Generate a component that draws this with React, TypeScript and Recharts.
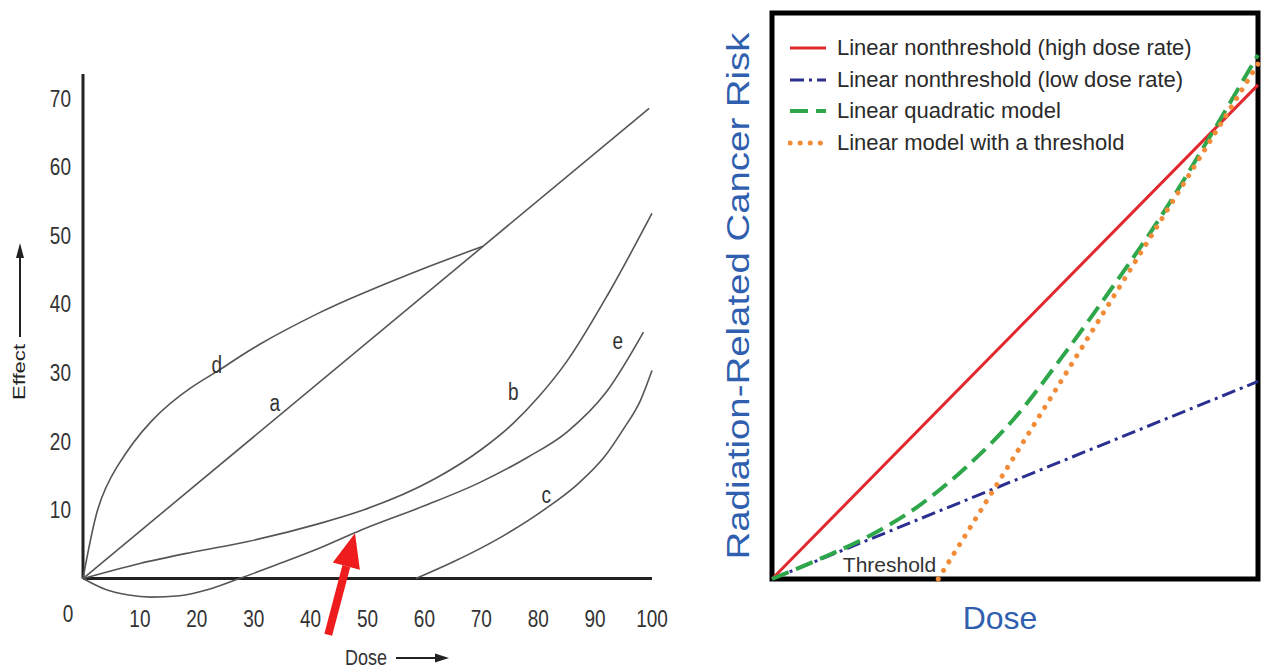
import React from 'react';
import { Label, Legend, Line, LineChart, ReferenceArea, ReferenceDot, ReferenceLine, XAxis, YAxis } from 'recharts';

type Pt = { x: number; y: number };

const SANS = "'Liberation Sans', Arial, Helvetica, sans-serif";
const TITLE_BLUE = '#2f5fae';

// left panel: dose-effect curves a..e
const doseTicks = [0, 10, 20, 30, 40, 50, 60, 70, 80, 90, 100];
const effectTicks = [10, 20, 30, 40, 50, 60, 70];

const curveA: Pt[] = [{ x: 0, y: 0 }, { x: 99.5, y: 68.5 }];
const curveD: Pt[] = [
  { x: 0, y: 0 }, { x: 2.5, y: 9.8 }, { x: 6, y: 16.3 }, { x: 12, y: 22.9 },
  { x: 19, y: 27.8 }, { x: 24, y: 30.4 }, { x: 31, y: 34.1 }, { x: 41.5, y: 38.7 }, { x: 49, y: 41.5 },
  { x: 60, y: 45.2 }, { x: 70.3, y: 48.4 },
];
const curveB: Pt[] = [
  { x: 0, y: 0 }, { x: 10, y: 2.2 }, { x: 19, y: 3.8 }, { x: 29, y: 5.4 }, { x: 41.5, y: 8 },
  { x: 49, y: 9.9 }, { x: 62, y: 14.6 }, { x: 70, y: 18.8 }, { x: 75.6, y: 22.6 }, { x: 80, y: 26.4 },
  { x: 85, y: 31.6 }, { x: 92.4, y: 41.6 }, { x: 100, y: 53.2 },
];
const curveE: Pt[] = [
  { x: 0, y: 0 }, { x: 4, y: -1.6 }, { x: 8, y: -2.4 }, { x: 12, y: -2.7 }, { x: 17, y: -2.5 },
  { x: 22, y: -1.6 }, { x: 27.5, y: 0 }, { x: 34, y: 2 }, { x: 41.5, y: 4.4 }, { x: 49, y: 7.1 },
  { x: 60, y: 10.6 }, { x: 69.5, y: 13.9 }, { x: 78, y: 17.6 }, { x: 85, y: 21.3 }, { x: 92, y: 27.2 },
  { x: 98.5, y: 35.9 },
];
const curveC: Pt[] = [
  { x: 58.5, y: 0 }, { x: 65, y: 2.4 }, { x: 73.4, y: 6 }, { x: 81, y: 10 }, { x: 87, y: 13.8 },
  { x: 91.7, y: 17.8 }, { x: 95, y: 21.8 }, { x: 98, y: 26 }, { x: 100, y: 30.3 },
];
const curveTags = [
  { name: 'd', x: 23.5, y: 31.1 },
  { name: 'a', x: 33.7, y: 25.5 },
  { name: 'b', x: 75.6, y: 27.2 },
  { name: 'e', x: 94, y: 34.5 },
  { name: 'c', x: 81.4, y: 12.2 },
];
const arrowTail = { x: 43.1, y: -8.2 };
const arrowHead = { x: 47.8, y: 6.6 };

// right panel: risk models
const modelNames = [
  'Linear nonthreshold (high dose rate)',
  'Linear nonthreshold (low dose rate)',
  'Linear quadratic model',
  'Linear model with a threshold',
];
const highRate: Pt[] = [{ x: 0, y: 0 }, { x: 100, y: 87.3 }];
const lowRate: Pt[] = [{ x: 0, y: 0 }, { x: 100, y: 34.9 }];
const quadratic: Pt[] = [
  { x: 0, y: 0 }, { x: 10, y: 3.6 }, { x: 20, y: 7.6 }, { x: 30, y: 12.8 }, { x: 40, y: 19.8 },
  { x: 50, y: 28.5 }, { x: 60, y: 39.6 }, { x: 70, y: 51.5 }, { x: 80, y: 64 }, { x: 90, y: 78 },
  { x: 100, y: 92.6 },
];
const withThreshold: Pt[] = [{ x: 34.2, y: 0 }, { x: 100, y: 91 }];
const thresholdDose = 34.2;

const modelSeries = [highRate, lowRate, quadratic, withThreshold];
const modelStyles = [
  { stroke: '#e0282e', width: 3, dash: undefined, cap: 'butt', curve: 'linear' },
  { stroke: '#2b2f8f', width: 3, dash: '14 5 3 5', cap: 'butt', curve: 'linear' },
  { stroke: '#2ea64a', width: 4, dash: '18 8', cap: 'butt', curve: 'monotone' },
  { stroke: '#f28c38', width: 5, dash: '0.1 10', cap: 'round', curve: 'linear' },
] as const;

// the source figure is stretched vertically, so its text is tall
function TallText({ x, y, children, anchor = 'middle', size = 19, central = false }: any) {
  return (
    <text
      transform={`translate(${x},${y}) scale(1,1.25)`}
      textAnchor={anchor}
      dominantBaseline={central ? 'central' : undefined}
      fontSize={size}
      fontFamily={SANS}
      fill="#333"
    >
      {children}
    </text>
  );
}

function DoseTick(props: any) {
  const { x, y, payload } = props;
  const zero = payload.value === 0;
  return (
    <TallText x={zero ? x - 15 : x} y={zero ? y + 15.5 : y + 21}>
      {payload.value}
    </TallText>
  );
}

function EffectTick(props: any) {
  const { x, y, payload } = props;
  return (
    <TallText x={x} y={y + 8.5} anchor="end">
      {payload.value}
    </TallText>
  );
}

function EffectTitle(props: any) {
  const { x, y } = props.viewBox;
  const cx = x - 4;
  return (
    <g>
      <text transform={`translate(${cx},${y + 298}) rotate(-90) scale(1.3,1)`} textAnchor="middle" dominantBaseline="central" fontSize={17} fontFamily={SANS} fill="#222">
        Effect
      </text>
      <line x1={cx + 1} y1={y + 263} x2={cx + 1} y2={y + 180} stroke="#222" strokeWidth={2} />
      <polygon points={`${cx + 1},${y + 169} ${cx - 3},${y + 184} ${cx + 5},${y + 184}`} fill="#222" />
    </g>
  );
}

function DoseTitle(props: any) {
  const { x, y } = props.viewBox;
  return (
    <g>
      <TallText x={x + 262} y={y + 59} anchor="start" size={18}>Dose</TallText>
      <line x1={x + 313} y1={y + 52} x2={x + 355} y2={y + 52} stroke="#222" strokeWidth={2} />
      <polygon points={`${x + 366},${y + 52} ${x + 352},${y + 47.5} ${x + 352},${y + 56.5}`} fill="#222" />
    </g>
  );
}

function RedArrow(props: any) {
  const { x1, y1, x2, y2 } = props;
  const len = Math.hypot(x2 - x1, y2 - y1);
  const ux = (x2 - x1) / len;
  const uy = (y2 - y1) / len;
  const bx = x2 - ux * 34;
  const by = y2 - uy * 34;
  const nx = -uy * 14;
  const ny = ux * 14;
  return (
    <g>
      <line x1={x1} y1={y1} x2={bx} y2={by} stroke="#ee1c1c" strokeWidth={8} />
      <polygon points={`${x2},${y2} ${bx + nx},${by + ny} ${bx - nx},${by - ny}`} fill="#ee1c1c" />
    </g>
  );
}

function RiskTitle(props: any) {
  const { x, y, height } = props.viewBox;
  return (
    <text transform={`translate(${x + 38},${y + height / 2}) rotate(-90) scale(1.2,1)`} textAnchor="middle" dominantBaseline="central" fontSize={32} fontFamily={SANS} fill={TITLE_BLUE}>
      Radiation-Related Cancer Risk
    </text>
  );
}

function RiskDoseTitle(props: any) {
  const { x, y, width } = props.viewBox;
  return (
    <text x={x + width / 2 - 15} y={y + 49.5} textAnchor="middle" fontSize={32} fontFamily={SANS} fill={TITLE_BLUE}>
      Dose
    </text>
  );
}

function ModelLegend() {
  return (
    <div style={{ fontFamily: SANS, fontSize: 22, color: '#2a2a2a' }}>
      {modelNames.map((name, i) => {
        const s = modelStyles[i];
        return (
          <div key={name} style={{ display: 'flex', alignItems: 'center', height: 31.7, whiteSpace: 'nowrap' }}>
            <svg width={40} height={10} style={{ marginRight: 9 }}>
              <line x1={2} y1={5} x2={38} y2={5} stroke={s.stroke} strokeWidth={s.width} strokeDasharray={s.dash} strokeLinecap={s.cap} />
            </svg>
            <span>{name}</span>
          </div>
        );
      })}
    </div>
  );
}

function DoseEffectChart() {
  const curves = [curveA, curveD, curveB, curveE, curveC];
  const kinds = ['linear', 'natural', 'monotone', 'monotone', 'monotone'] as const;
  return (
    <LineChart width={700} height={671} margin={{ top: 74, right: 48, bottom: 35, left: 23 }}>
      <XAxis type="number" dataKey="x" domain={[0, 100]} ticks={doseTicks} interval={0} tick={DoseTick} tickSize={0} tickMargin={0} axisLine={false} tickLine={false} height={30}>
        <Label content={DoseTitle} />
      </XAxis>
      <YAxis type="number" domain={[-4, 73.5]} ticks={effectTicks} interval={0} tick={EffectTick} tickSize={0} tickMargin={12} axisLine={false} tickLine={false} width={60}>
        <Label content={EffectTitle} />
      </YAxis>
      <ReferenceLine segment={[{ x: 0, y: 0 }, { x: 0, y: 73.5 }]} stroke="#222" strokeWidth={3} ifOverflow="visible" />
      <ReferenceLine segment={[{ x: 0, y: 0 }, { x: 100, y: 0 }]} stroke="#222" strokeWidth={3} ifOverflow="visible" />
      {curves.map((data, i) => (
        <Line key={i} data={data} dataKey="y" type={kinds[i]} stroke="#555" strokeWidth={1.6} dot={false} isAnimationActive={false} />
      ))}
      {curveTags.map((t) => (
        <ReferenceDot
          key={t.name}
          x={t.x}
          y={t.y}
          r={0}
          shape={(p: any) => (
            <TallText x={p.cx} y={p.cy} central>
              {t.name}
            </TallText>
          )}
        />
      ))}
      <ReferenceLine segment={[arrowTail, arrowHead]} ifOverflow="visible" shape={RedArrow} />
    </LineChart>
  );
}

function RiskModelChart() {
  return (
    <LineChart width={564} height={671} margin={{ top: 13, right: 6, bottom: 0, left: 0 }}>
      <XAxis type="number" dataKey="x" domain={[0, 100]} ticks={[]} tick={false} axisLine={false} tickLine={false} height={92}>
        <Label content={RiskDoseTitle} />
      </XAxis>
      <YAxis type="number" domain={[0, 100]} ticks={[]} tick={false} axisLine={false} tickLine={false} width={72}>
        <Label content={RiskTitle} />
      </YAxis>
      {modelSeries.map((data, i) => {
        const s = modelStyles[i];
        return (
          <Line
            key={modelNames[i]}
            name={modelNames[i]}
            data={data}
            dataKey="y"
            type={s.curve}
            stroke={s.stroke}
            strokeWidth={s.width}
            strokeDasharray={s.dash}
            strokeLinecap={s.cap}
            dot={false}
            isAnimationActive={false}
          />
        );
      })}
      <ReferenceDot
        x={thresholdDose}
        y={0}
        r={0}
        shape={(p: any) => (
          <text x={p.cx - 2} y={p.cy - 7} textAnchor="end" fontSize={21} fontFamily={SANS} fill="#333">
            Threshold
          </text>
        )}
      />
      <ReferenceArea x1={0} x2={100} y1={0} y2={100} fill="none" stroke="#000" strokeWidth={5} ifOverflow="visible" />
      <Legend layout="vertical" align="center" verticalAlign="middle" wrapperStyle={{ left: 88, top: 32, width: 440 }} content={ModelLegend} />
    </LineChart>
  );
}

export default function App() {
  return (
    <div style={{ position: 'absolute', left: 0, top: 0, width: 1264, height: 671, background: '#fff' }}>
      <div style={{ position: 'absolute', left: 0, top: 0 }}>
        <DoseEffectChart />
      </div>
      <div style={{ position: 'absolute', left: 700, top: 0 }}>
        <RiskModelChart />
      </div>
    </div>
  );
}
